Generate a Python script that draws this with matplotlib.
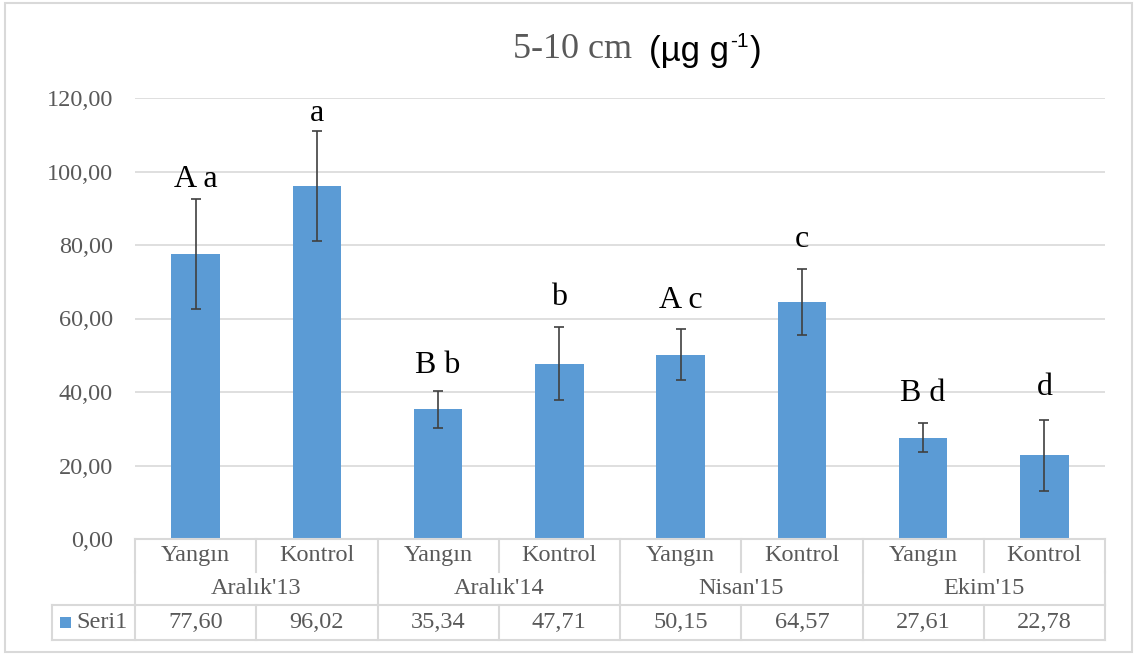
import matplotlib
matplotlib.use("Agg")
import matplotlib.pyplot as plt
from matplotlib.lines import Line2D
from matplotlib.patches import Rectangle
import numpy as np

treatments = ["Yangın", "Kontrol", "Yangın", "Kontrol", "Yangın", "Kontrol", "Yangın", "Kontrol"]
periods = ["Aralık'13", "Aralık'14", "Nisan'15", "Ekim'15"]
values = [77.60, 96.02, 35.34, 47.71, 50.15, 64.57, 27.61, 22.78]
errors = [15.0, 15.0, 5.0, 10.0, 7.0, 9.0, 4.0, 9.7]
letters = ["A a", "a", "B b", "b", "A c", "c", "B d", "d"]
letter_y = [97.7, 115.9, 47.3, 65.6, 65.0, 81.4, 39.7, 41.1]
series_name = "Seri1"

W, H = 1134, 655
fig = plt.figure(figsize=(W / 100, H / 100), dpi=100)
serif = ["Liberation Serif", "DejaVu Serif"]
sans = ["Liberation Sans", "DejaVu Sans"]
gray = "#595959"
line_c = "#d9d9d9"
bar_c = "#5B9BD5"
fs = 17.5

L, R, T, B = 135, 1105, 98, 539
ax = fig.add_axes([L / W, 1 - B / H, (R - L) / W, (B - T) / H])
x = np.arange(len(values))
ax.bar(x, values, width=0.4, color=bar_c, zorder=2)
ax.errorbar(x, values, yerr=errors, fmt="none", ecolor="#404040", elinewidth=1.2,
            capsize=3.5, capthick=1.2, zorder=3)
for xi, lab, ly in zip(x, letters, letter_y):
    ax.text(xi, ly, lab, ha="center", va="center", fontsize=23, family=serif, color="black")

ax.set_xlim(-0.5, len(values) - 0.5)
ax.set_ylim(0, 120)
yt = np.arange(0, 121, 20)
ax.set_yticks(yt)
ax.set_yticklabels([f"{v:.2f}".replace(".", ",") for v in yt], family=serif, fontsize=fs, color=gray)
ax.tick_params(axis="y", length=0, pad=16)
ax.set_xticks([])
ax.grid(axis="y", color=line_c, linewidth=1.2, zorder=0)
for s in ax.spines.values():
    s.set_visible(False)

def fy(py):
    return (B - py) / (B - T)

tr = ax.get_xaxis_transform()
def line(x0, x1, y0, y1, transform=tr):
    ax.add_line(Line2D([x0, x1], [y0, y1], transform=transform, color=line_c, lw=1.5, clip_on=False))

r0, r1, r2, r3 = fy(539), fy(572), fy(605), fy(640)
n = len(values)
line(-0.5, n - 0.5, r0, r0)
for i in range(n + 1):
    line(i - 0.5, i - 0.5, r0, r1)
for g in range(len(periods) + 1):
    line(2 * g - 0.5, 2 * g - 0.5, r1, r2)
xl = (52 - L) / (R - L) * n - 0.5
line(xl, n - 0.5, r2, r2)
line(xl, n - 0.5, r3, r3)
line(xl, xl, r2, r3)
for i in range(n + 1):
    line(i - 0.5, i - 0.5, r2, r3)

for i, t in enumerate(treatments):
    ax.text(i, (r0 + r1) / 2, t, ha="center", va="center", fontsize=fs, family=serif,
            color=gray, transform=tr, clip_on=False)
for g, p in enumerate(periods):
    ax.text(2 * g + 0.5, (r1 + r2) / 2, p, ha="center", va="center", fontsize=fs, family=serif,
            color=gray, transform=tr, clip_on=False)
for i, v in enumerate(values):
    ax.text(i, (r2 + r3) / 2, f"{v:.2f}".replace(".", ","), ha="center", va="center",
            fontsize=fs, family=serif, color=gray, transform=tr, clip_on=False)

fig.add_artist(Rectangle((60 / W, 1 - 628 / H), 11 / W, 11 / H, transform=fig.transFigure,
                         facecolor=bar_c, edgecolor="none"))
fig.text(76 / W, 1 - 623 / H, series_name, ha="left", va="center", fontsize=fs,
         family=serif, color=gray)

fig.text(632 / W, 1 - 49 / H, "5-10 cm", ha="right", va="center", fontsize=26,
         family=serif, color=gray)
t1 = fig.text(649 / W, 1 - 51 / H, "(µg g", ha="left", va="center", fontsize=25,
              family=sans, color="black")
t2 = fig.text(0, 0, "-1", ha="left", va="center", fontsize=15, family=sans, color="black")
t3 = fig.text(0, 0, ")", ha="left", va="center", fontsize=25, family=sans, color="black")
fig.canvas.draw()
r = fig.canvas.get_renderer()
bb1 = t1.get_window_extent(r)
t2.set_position(((bb1.x1 + 1) / W, (bb1.y0 + 0.78 * bb1.height) / H))
bb2 = t2.get_window_extent(r)
t3.set_position(((bb2.x1 + 1) / W, t1.get_position()[1]))

fig.add_artist(Rectangle((5 / W, 1 - 652 / H), 1127 / W, 649 / H, transform=fig.transFigure,
                         facecolor="none", edgecolor=line_c, lw=1.5))

fig.savefig("out.png", dpi=100)
